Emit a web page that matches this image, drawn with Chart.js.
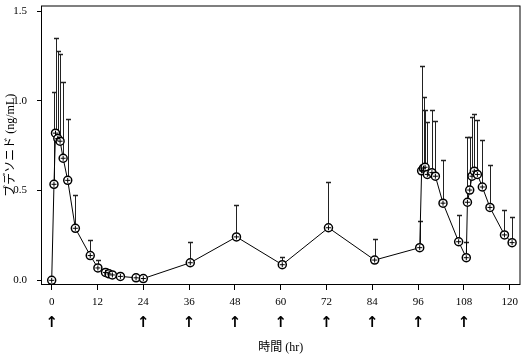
<!DOCTYPE html>
<html><head><meta charset="utf-8">
<script src="https://cdn.jsdelivr.net/npm/chart.js@4/dist/chart.umd.min.js"></script>
<style>html,body{margin:0;padding:0;background:#fff}</style>
</head><body>
<canvas id="c" width="526" height="356"></canvas>
<script>
// Sampling times (hr)
const times = [0, 0.6, 1.0, 1.6, 2.2, 3.0, 4.2, 6.2, 10.1, 12.1, 14.1, 15.0, 15.9, 18.0, 22.1, 24.0,
  36.3, 48.4, 60.4, 72.5, 84.6,
  96.4, 96.9, 97.4, 97.8, 98.4, 99.6, 100.5, 102.5, 106.6,
  108.6, 108.9, 109.5, 110.1, 110.7, 111.5, 112.8, 114.8, 118.6, 120.6];
// Mean concentration (ng/mL)
const means = [0, 0.535, 0.82, 0.79, 0.775, 0.68, 0.557, 0.29, 0.138, 0.069, 0.044, 0.036, 0.03, 0.022, 0.014, 0.01,
  0.098, 0.242, 0.087, 0.293, 0.113,
  0.182, 0.61, 0.625, 0.63, 0.59, 0.60, 0.58, 0.43, 0.215,
  0.126, 0.435, 0.503, 0.58, 0.608, 0.59, 0.52, 0.406, 0.253, 0.21];
// Mean + SD (upper end of error bar)
const upper = [null, 1.05, 1.35, 1.28, 1.26, 1.107, 0.90, 0.473, 0.224, 0.111, 0.062, 0.05, 0.04, null, null, null,
  0.215, 0.419, 0.129, 0.548, 0.233,
  0.33, 1.195, 1.02, 0.947, 0.88, 0.947, 0.89, 0.67, 0.366,
  0.216, 0.80, 0.80, 0.91, 0.925, 0.894, 0.78, 0.64, 0.393, 0.351];
const xTicks = [0, 12, 24, 36, 48, 60, 72, 84, 96, 108, 120];
const yTicks = [0, 0.5, 1.0, 1.5];
const doseTimes = [0, 24, 36, 48, 60, 72, 84, 96, 108];
const xTitle = '時間 (hr)';
const yTitle = 'ブデソニド (ng/mL)';

function noPad(s){ s.paddingTop = 0; s.paddingBottom = 0; s.paddingLeft = 0; s.paddingRight = 0; }

const errorBars = {
  id: 'errorBars',
  beforeDatasetsDraw(chart){
    const {ctx, scales:{x, y}} = chart;
    ctx.save();
    ctx.strokeStyle = '#222';
    times.forEach((t, i) => {
      if (upper[i] == null) return;
      const px = Math.round(x.getPixelForValue(t)) + 0.5;
      const y0 = y.getPixelForValue(means[i]);
      const y1 = Math.round(y.getPixelForValue(upper[i])) + 0.5;
      ctx.lineWidth = 1;
      ctx.beginPath(); ctx.moveTo(px, y0); ctx.lineTo(px, y1); ctx.stroke();
      ctx.lineWidth = 1.5;
      ctx.beginPath(); ctx.moveTo(px - 2.5, y1); ctx.lineTo(px + 2.5, y1); ctx.stroke();
    });
    ctx.restore();
  }
};

const frameAndArrows = {
  id: 'frameAndArrows',
  afterDraw(chart){
    const {ctx, chartArea:a, scales:{x}} = chart;
    ctx.save();
    ctx.strokeStyle = '#000'; ctx.lineWidth = 1;
    ctx.strokeRect(a.left + 0.5, a.top + 0.5, a.right - a.left - 1, a.bottom - a.top - 1);
    ctx.fillStyle = '#000';
    ctx.font = 'bold 15px "DejaVu Sans"';
    ctx.textAlign = 'center'; ctx.textBaseline = 'middle';
    doseTimes.forEach(t => ctx.fillText('↑', x.getPixelForValue(t), 323));
    ctx.restore();
  }
};

const points = times.map((t, i) => ({x: t, y: means[i]}));

new Chart(document.getElementById('c'), {
  type: 'line',
  data: {
    datasets: [{
      data: points, order: 2,
      borderColor: '#000', borderWidth: 1, tension: 0, fill: false,
      pointStyle: 'circle', pointRadius: 4, pointBorderWidth: 1.5,
      pointBorderColor: '#000', pointBackgroundColor: '#fff'
    }, {
      data: points, order: 1, showLine: false,
      pointStyle: 'cross', pointRadius: 2.5, pointBorderWidth: 1,
      pointBorderColor: '#000', pointBackgroundColor: '#000'
    }]
  },
  options: {
    responsive: false, animation: false,
    layout: {padding: {top: 1, right: 4, left: 0, bottom: 0}},
    plugins: {legend: {display: false}, tooltip: {enabled: false}},
    scales: {
      x: {
        type: 'linear', min: -2.8, max: 122.8,
        afterFit(s){ s.height = 71; noPad(s); },
        afterBuildTicks(s){ s.ticks = xTicks.map(v => ({value: v})); },
        grid: {drawOnChartArea: false, drawTicks: true, tickLength: 5, color: '#000'},
        border: {display: false},
        ticks: {autoSkip: false, maxRotation: 0, padding: 6, color: '#000',
          font: {family: '"Liberation Serif"', size: 11}, callback: v => String(v)},
        title: {display: true, text: xTitle, color: '#000', padding: {top: 0, bottom: 1},
          font: {family: '"Liberation Serif", "Noto Sans CJK JP"', size: 12}}
      },
      y: {
        type: 'linear', min: -0.026, max: 1.531,
        afterFit(s){ s.width = 41; noPad(s); },
        afterBuildTicks(s){ s.ticks = yTicks.map(v => ({value: v})); },
        grid: {drawOnChartArea: false, drawTicks: true, tickLength: 4, color: '#000'},
        border: {display: false},
        ticks: {padding: 10, color: '#000', font: {family: '"Liberation Serif"', size: 11},
          callback: v => v.toFixed(1)},
        title: {display: true, text: yTitle, color: '#000', padding: {top: 4, bottom: 0},
          font: {family: '"Liberation Serif", "Noto Sans CJK JP"', size: 12}}
      }
    }
  },
  plugins: [errorBars, frameAndArrows]
});
</script>
</body></html>
